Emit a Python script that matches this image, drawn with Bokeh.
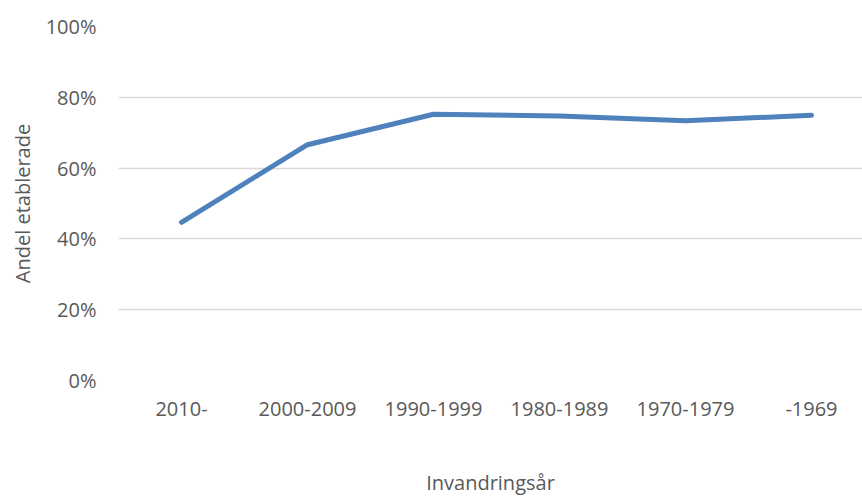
from bokeh.plotting import figure
from bokeh.models import Range1d, FixedTicker, NumeralTickFormatter
from bokeh.embed import file_html
from bokeh.resources import INLINE

categories = ["2010-", "2000-2009", "1990-1999", "1980-1989", "1970-1979", "-1969"]
andel = [0.447, 0.666, 0.752, 0.747, 0.734, 0.749]
y_ticks = [0, 0.2, 0.4, 0.6, 0.8, 1.0]

FONT = "Open Sans"
GRAY = "#595959"

# category positions on a numeric axis (0.5, 1.5, ...)
xpos = [i + 0.5 for i in range(len(categories))]

p = figure(width=862, height=499, x_range=Range1d(0, 5.905), y_range=Range1d(0, 1),
           output_backend="svg", toolbar_location=None,
           min_border_left=118, min_border_right=0, min_border_top=26, min_border_bottom=119)

p.line(x=xpos, y=andel, line_width=5, line_color="#4f81bd", line_cap="round", line_join="round")

p.outline_line_color = None
p.xgrid.grid_line_color = None
p.ygrid.grid_line_color = "#d9d9d9"
p.ygrid.grid_line_width = 1.5
p.ygrid.ticker = FixedTicker(ticks=y_ticks)

p.xaxis.ticker = FixedTicker(ticks=xpos)
p.xaxis.major_label_overrides = {x: c for x, c in zip(xpos, categories)}
p.yaxis.ticker = FixedTicker(ticks=y_ticks)
p.yaxis.formatter = NumeralTickFormatter(format="0%")

for ax in (p.xaxis[0], p.yaxis[0]):
    ax.axis_line_color = None
    ax.major_tick_line_color = None
    ax.minor_tick_line_color = None
    ax.major_tick_out = 0
    ax.minor_tick_out = 0
    ax.major_label_text_font = FONT
    ax.major_label_text_font_size = "20px"
    ax.major_label_text_color = GRAY
    ax.axis_label_text_font = FONT
    ax.axis_label_text_font_size = "20px"
    ax.axis_label_text_color = GRAY
    ax.axis_label_text_font_style = "normal"

p.xaxis.axis_label = "Invandringsår"
p.yaxis.axis_label = "Andel etablerade"
p.xaxis.major_label_standoff = 21
p.yaxis.major_label_standoff = 22
p.xaxis.axis_label_standoff = 50
p.yaxis.axis_label_standoff = 7

open("out.html", "w").write(file_html(p, INLINE))
